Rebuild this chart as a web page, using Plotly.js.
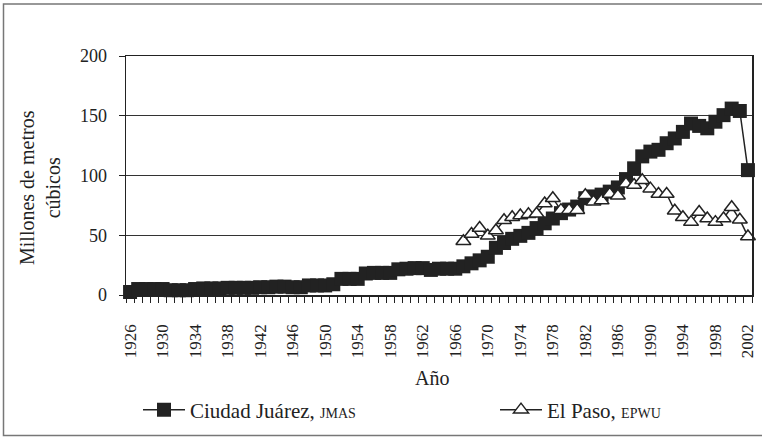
<!DOCTYPE html>
<html>
<head>
<meta charset="utf-8">
<script src="https://cdn.plot.ly/plotly-3.0.1.min.js"></script>
<style>html,body{margin:0;padding:0;background:#fff;}#chart{width:762px;height:438px;}</style>
</head>
<body>
<div id="chart"></div>
<script>
const years = [];
for (let y = 1926; y <= 2002; y++) years.push(y);

const juarez = [
  2.5, 5, 5, 5, 5, 4, 4, 4, 5, 5.5,
  5.5, 5.5, 6, 6, 6, 6, 6.5, 6.5, 7, 7,
  6.5, 6.5, 8, 8, 8, 9, 13.5, 13.5, 13.5, 18,
  18.5, 18.5, 18.5, 21.5, 22, 22.5, 22.5, 21, 22, 22,
  22, 24, 26.5, 29, 32, 39.5, 43.5, 47, 49.5, 52,
  56, 60, 64, 68.5, 71.5, 74, 81, 82.5, 84, 86.5,
  90, 97, 106, 116, 120, 121.5, 127, 131, 136.5, 143.5,
  141.5, 139.5, 145, 150.5, 156, 154, 104.5
];

const elPaso = [
  null, null, null, null, null, null, null, null, null, null,
  null, null, null, null, null, null, null, null, null, null,
  null, null, null, null, null, null, null, null, null, null,
  null, null, null, null, null, null, null, null, null, null,
  null, 45, 51, 56, 49.5, 54, 62.5, 65, 66.5, 67.5,
  68, 76.5, 81, 71, 71, 71, 83.5, 78, 79, 84.5,
  83, 93, 92, 96, 89, 84.5, 84.5, 70.5, 65, 61,
  69.5, 64, 61, 64, 73.5, 63, 49
];

const xTickVals = [1926,1930,1934,1938,1942,1946,1950,1954,1958,1962,1966,1970,1974,1978,1982,1986,1990,1994,1998,2002];
const xTickText = xTickVals.map(String);
const yTickVals = [0, 50, 100, 150, 200];

const nameJuarez = 'Ciudad Juárez, <span style="font-size:14px">JMAS</span>';
const nameElPaso = 'El Paso, <span style="font-size:14px">EPWU</span>';

const ink = '#222222';
const serif = 'Liberation Serif, serif';

const traces = [
  {
    x: years, y: juarez, name: nameJuarez, type: 'scatter', mode: 'lines+markers',
    line: {color: ink, width: 1.5},
    marker: {symbol: 'square', size: 14, color: ink, line: {color: ink, width: 0}},
    cliponaxis: false, legend: 'legend'
  },
  {
    x: years, y: elPaso, name: nameElPaso, type: 'scatter', mode: 'lines+markers',
    line: {color: ink, width: 1.5},
    marker: {symbol: 'triangle-up', size: 13, color: '#ffffff', line: {color: ink, width: 1.5}},
    cliponaxis: false, legend: 'legend2'
  }
];

const L = 126, T = 56, W = 626, H = 239;
const px = v => (v - L) / W;
const py = v => (T + H - v) / H;

const legendBase = {
  orientation: 'h', xanchor: 'left', yanchor: 'middle',
  font: {size: 21, family: serif, color: ink},
  itemwidth: 42,
  bgcolor: 'rgba(0,0,0,0)', borderwidth: 0
};

const layout = {
  width: 762, height: 438,
  margin: {l: L, r: 762 - L - W, t: T, b: 438 - T - H, pad: 0, autoexpand: false},
  paper_bgcolor: '#ffffff', plot_bgcolor: '#ffffff',
  font: {family: serif, color: ink, size: 16},
  showlegend: true,
  xaxis: {
    range: [1925.5, 2002.5],
    tickmode: 'array', tickvals: xTickVals, ticktext: xTickText,
    tickangle: -90, ticks: '', ticklabelstandoff: 21,
    tickfont: {size: 17, family: serif, color: ink},
    showline: true, linecolor: ink, linewidth: 1.5, mirror: true,
    showgrid: false, zeroline: false,
    minor: {tick0: 1925.5, dtick: 1, ticks: 'outside', ticklen: 6, tickcolor: ink, tickwidth: 1, showgrid: false}
  },
  yaxis: {
    range: [0, 200],
    tickmode: 'array', tickvals: yTickVals,
    ticks: 'outside', ticklen: 6, tickcolor: ink, tickwidth: 1,
    ticklabelstandoff: 8,
    tickfont: {size: 18, family: serif, color: ink},
    showline: true, linecolor: ink, linewidth: 1.5, mirror: true,
    showgrid: true, gridcolor: '#333333', gridwidth: 1, zeroline: false
  },
  legend: Object.assign({}, legendBase, {x: px(138), y: py(410)}),
  legend2: Object.assign({}, legendBase, {x: px(495), y: py(410)}),
  annotations: [
    {
      text: 'Millones de metros<br>cúbicos', textangle: -90, align: 'center',
      xref: 'paper', yref: 'paper', x: px(40), y: py(188),
      xanchor: 'center', yanchor: 'middle', showarrow: false,
      font: {size: 20, family: serif, color: ink}
    },
    {
      text: 'Año',
      xref: 'paper', yref: 'paper', x: px(432), y: py(378),
      xanchor: 'center', yanchor: 'middle', showarrow: false,
      font: {size: 20, family: serif, color: ink}
    }
  ],
  shapes: [
    {
      type: 'rect', xref: 'paper', yref: 'paper', layer: 'below',
      x0: px(3.5), x1: px(775), y0: py(435.5), y1: py(4),
      line: {color: '#777777', width: 1.5}, fillcolor: 'rgba(0,0,0,0)'
    }
  ]
};

Plotly.newPlot('chart', traces, layout, {displayModeBar: false, staticPlot: true});
</script>
</body>
</html>
